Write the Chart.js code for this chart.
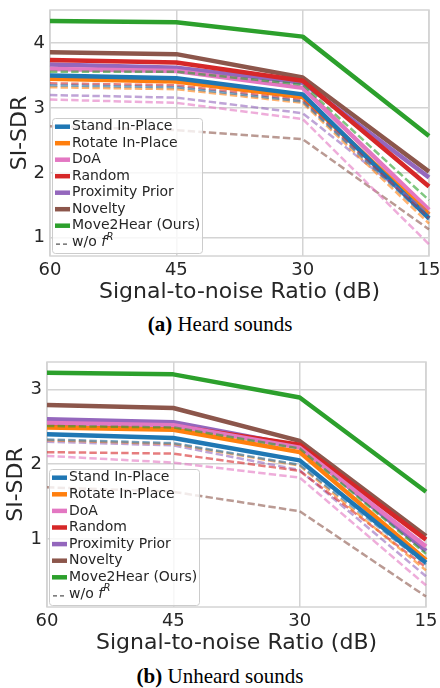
<!DOCTYPE html>
<html>
<head>
<meta charset="utf-8">
<script src="https://cdn.jsdelivr.net/npm/chart.js@4.4.0/dist/chart.umd.min.js"></script>
<style>
  body { margin: 0; background: #fff; width: 440px; height: 688px; position: relative; overflow: hidden; }
  canvas { position: absolute; left: 0; }
  .caption { position: absolute; left: 0; width: 440px; text-align: center;
             font-family: "Liberation Serif", "DejaVu Serif", serif; font-size: 21px; line-height: 22px; color: #000; }
</style>
</head>
<body>
<canvas id="heardChart" width="440" height="310" style="top:0"></canvas>
<div class="caption" style="top:313px"><b>(a)</b> Heard sounds</div>
<canvas id="unheardChart" width="440" height="320" style="top:340px"></canvas>
<div class="caption" style="top:665px"><b>(b)</b> Unheard sounds</div>

<script>
const snrLabels = ["60", "45", "30", "15"];
const methodNames = ["Stand In-Place", "Rotate In-Place", "DoA", "Random", "Proximity Prior", "Novelty", "Move2Hear (Ours)"];
const methodColors = ["#1f77b4", "#ff7f0e", "#e377c2", "#d62728", "#9467bd", "#8c564b", "#2ca02c"];
const dashedColors = ["rgba(31,119,180,0.6)", "rgba(255,127,14,0.6)", "rgba(227,119,194,0.6)",
                      "rgba(214,39,40,0.6)", "rgba(148,103,189,0.6)", "rgba(140,86,75,0.6)", "rgba(44,160,44,0.6)"];

// (a) heard sounds
const heardStand     = [3.50, 3.46, 3.21, 1.30];
const heardRotate    = [3.45, 3.41, 3.17, 1.36];
const heardDoa       = [3.60, 3.57, 3.31, 1.43];
const heardRandom    = [3.74, 3.70, 3.42, 1.79];
const heardProximity = [3.67, 3.62, 3.39, 1.93];
const heardNovelty   = [3.86, 3.83, 3.47, 2.02];
const heardMove2Hear = [4.34, 4.32, 4.10, 2.57];
// (a) w/o f^R
const heardStandNoR     = [3.35, 3.32, 3.10, 1.28];
const heardRotateNoR    = [3.32, 3.29, 3.08, 1.22];
const heardDoaNoR       = [3.13, 3.08, 2.83, 0.90];
const heardRandomNoR    = [3.38, 3.35, 3.12, 1.30];
const heardProximityNoR = [3.20, 3.16, 2.92, 1.38];
const heardNoveltyNoR   = [2.72, 2.66, 2.52, 1.13];
const heardMove2HearNoR = [3.56, 3.56, 3.36, 1.58];
const heardTicks = [1, 2, 3, 4];

// (b) unheard sounds
const unheardStand     = [2.40, 2.35, 2.05, 0.68];
const unheardRotate    = [2.49, 2.46, 2.16, 0.72];
const unheardDoa       = [2.55, 2.52, 2.22, 0.90];
const unheardRandom    = [2.53, 2.51, 2.26, 0.99];
const unheardProximity = [2.60, 2.56, 2.24, 0.84];
const unheardNovelty   = [2.79, 2.75, 2.31, 1.04];
const unheardMove2Hear = [3.22, 3.20, 2.89, 1.63];
// (b) w/o f^R
const unheardStandNoR     = [2.33, 2.28, 1.99, 0.66];
const unheardRotateNoR    = [2.32, 2.27, 1.98, 0.58];
const unheardDoaNoR       = [2.11, 2.02, 1.82, 0.38];
const unheardRandomNoR    = [2.16, 2.14, 1.91, 0.62];
const unheardProximityNoR = [2.30, 2.25, 1.92, 0.50];
const unheardNoveltyNoR   = [1.69, 1.63, 1.37, 0.23];
const unheardMove2HearNoR = [2.51, 2.49, 2.21, 0.80];
const unheardTicks = [1, 2, 3];

const FONT = "'DejaVu Sans', sans-serif";
const INK = "#262626";
const GRID = "#d4d4d4";

// frame around the plot + legend box inside the axes (lower left)
const frameAndLegend = {
  id: "frameAndLegend",
  beforeDatasetsDraw(chart) {
    const { ctx, chartArea: a } = chart;
    ctx.save();
    ctx.strokeStyle = GRID;
    ctx.lineWidth = 1.5;
    ctx.strokeRect(a.left, a.top, a.right - a.left, a.bottom - a.top);
    ctx.restore();
  },
  afterDatasetsDraw(chart, args, opts) {
    const { ctx, chartArea: a } = chart;
    const bx = a.left + 2, bw = 150, bh = opts.h;
    const by = a.bottom - opts.dy - bh;
    ctx.save();
    ctx.fillStyle = "rgba(255,255,255,0.8)";
    ctx.strokeStyle = "#cccccc";
    ctx.lineWidth = 1;
    ctx.beginPath();
    ctx.roundRect(bx + 0.5, by + 0.5, bw, bh, 3);
    ctx.fill();
    ctx.stroke();

    ctx.font = "14px " + FONT;
    ctx.textBaseline = "middle";
    ctx.fillStyle = INK;
    methodNames.forEach((name, i) => {
      const y = by + 8.7 + i * opts.step;
      ctx.strokeStyle = methodColors[i];
      ctx.lineWidth = 4.5;
      ctx.beginPath();
      ctx.moveTo(bx + 3, y);
      ctx.lineTo(bx + 18, y);
      ctx.stroke();
      ctx.fillText(name, bx + 20, y);
    });
    const y = by + 8.7 + 7 * opts.step;
    ctx.strokeStyle = "#555";
    ctx.lineWidth = 1.2;
    ctx.setLineDash([4, 3]);
    ctx.beginPath();
    ctx.moveTo(bx + 4, y + 2);
    ctx.lineTo(bx + 15, y + 2);
    ctx.stroke();
    ctx.setLineDash([]);
    let tx = bx + 20;
    ctx.fillText("w/o ", tx, y);
    tx += ctx.measureText("w/o ").width;
    ctx.font = "italic 14px " + FONT;
    ctx.fillText("f", tx, y);
    tx += ctx.measureText("f").width + 0.5;
    ctx.font = "italic 10px " + FONT;
    ctx.fillText("R", tx, y - 5);
    ctx.restore();
  }
};

function makeChart(id, solid, dashed, yMin, yMax, yTicks, cfg) {
  const datasets = [];
  dashed.forEach((data, i) => datasets.push({
    label: methodNames[i] + " w/o fR", data,
    borderColor: dashedColors[i], borderWidth: 2.5, borderDash: [7.4, 3.2],
    pointRadius: 0, tension: 0, fill: false
  }));
  solid.forEach((data, i) => datasets.push({
    label: methodNames[i], data,
    borderColor: methodColors[i], borderWidth: 4.5, borderJoinStyle: "round",
    pointRadius: 0, tension: 0, fill: false
  }));

  return new Chart(document.getElementById(id).getContext("2d"), {
    type: "line",
    data: { labels: snrLabels, datasets },
    plugins: [frameAndLegend],
    options: {
      responsive: false,
      animation: false,
      layout: { padding: { top: cfg.top, right: cfg.right, left: 0, bottom: 0 } },
      plugins: {
        legend: { display: false },
        tooltip: { enabled: false },
        frameAndLegend: { h: cfg.legendH, dy: cfg.legendDy, step: cfg.step }
      },
      scales: {
        x: {
          type: "category", offset: false,
          ticks: { font: { family: FONT, size: 18 }, color: INK, padding: 4, maxRotation: 0, autoSkip: false },
          grid: { color: GRID, lineWidth: 1.5, drawTicks: false },
          border: { display: false },
          title: { display: true, text: "Signal-to-noise Ratio (dB)", font: { family: FONT, size: 22 },
                   color: INK, padding: { top: 0, bottom: cfg.xTitlePad } },
          afterFit: s => { s.height = cfg.xHeight; s.paddingLeft = 0; s.paddingRight = 0; }
        },
        y: {
          min: yMin, max: yMax,
          afterBuildTicks: s => { s.ticks = yTicks.map(v => ({ value: v })); },
          ticks: { font: { family: FONT, size: 18 }, color: INK, padding: 5 },
          grid: { color: GRID, lineWidth: 1.5, drawTicks: false },
          border: { display: false },
          title: { display: true, text: "SI-SDR", font: { family: FONT, size: 22 },
                   color: INK, padding: { top: cfg.yTitlePad, bottom: 0 } },
          afterFit: s => { s.width = cfg.yWidth; s.paddingTop = 0; s.paddingBottom = 0; }
        }
      }
    }
  });
}

makeChart("heardChart",
  [heardStand, heardRotate, heardDoa, heardRandom, heardProximity, heardNovelty, heardMove2Hear],
  [heardStandNoR, heardRotateNoR, heardDoaNoR, heardRandomNoR, heardProximityNoR, heardNoveltyNoR, heardMove2HearNoR],
  0.72, 4.51, heardTicks,
  { top: 10, right: 11, xHeight: 54, yWidth: 50, xTitlePad: 5, yTitlePad: 7, legendH: 135, legendDy: 3, step: 16.5 });

makeChart("unheardChart",
  [unheardStand, unheardRotate, unheardDoa, unheardRandom, unheardProximity, unheardNovelty, unheardMove2Hear],
  [unheardStandNoR, unheardRotateNoR, unheardDoaNoR, unheardRandomNoR, unheardProximityNoR, unheardNoveltyNoR, unheardMove2HearNoR],
  0.09, 3.365, unheardTicks,
  { top: 22, right: 14, xHeight: 53, yWidth: 47, xTitlePad: 4, yTitlePad: 3, legendH: 136, legendDy: 2, step: 16.6 });
</script>
</body>
</html>
